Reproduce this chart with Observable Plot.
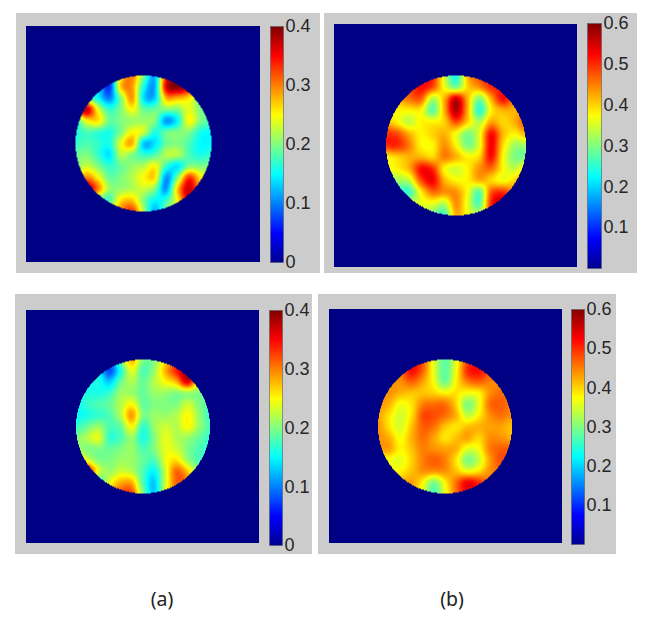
<!DOCTYPE html>
<html>
<head>
<meta charset="utf-8">
<script src="https://cdn.jsdelivr.net/npm/d3@7"></script>
<script src="https://cdn.jsdelivr.net/npm/@observablehq/plot@0.6"></script>
<style>
  html, body { margin: 0; padding: 0; background: #fff; }
  #page { position: relative; width: 656px; height: 624px; overflow: hidden; }
  .panel { position: absolute; background: #cccccc; }
  .caption { position: absolute; font: 19.5px "Noto Sans", sans-serif; color: #222; transform: translateX(-50%); }
</style>
</head>
<body>
<div id="page"></div>
<script>
// Field values, 13 x 13 samples across each disc (row 0 = top).
const fieldTopA = [
  [.15,.15,.10,.08,.25,.30,.20,.12,.33,.38,.38,.30,.20],
  [.15,.15,.14,.07,.27,.29,.16,.12,.36,.40,.36,.25,.20],
  [.18,.20,.15,.10,.20,.29,.14,.13,.28,.28,.26,.20,.19],
  [.30,.37,.24,.17,.20,.25,.19,.19,.20,.20,.24,.20,.18],
  [.17,.25,.26,.19,.20,.21,.21,.20,.11,.15,.25,.20,.18],
  [.16,.18,.17,.16,.20,.25,.23,.16,.19,.20,.20,.16,.15],
  [.17,.18,.17,.16,.24,.28,.13,.14,.19,.20,.18,.15,.15],
  [.19,.20,.17,.14,.22,.20,.17,.18,.22,.22,.18,.16,.17],
  [.20,.23,.20,.17,.19,.21,.22,.25,.17,.14,.20,.20,.20],
  [.25,.30,.25,.19,.20,.22,.25,.26,.11,.20,.33,.26,.22],
  [.35,.38,.30,.21,.21,.22,.23,.20,.11,.27,.37,.28,.22],
  [.35,.35,.20,.18,.26,.27,.20,.15,.17,.25,.35,.25,.20],
  [.30,.20,.20,.25,.30,.33,.22,.12,.20,.24,.30,.20,.20]
];
const fieldTopB = [
  [.40,.45,.50,.50,.50,.35,.24,.42,.48,.50,.50,.45,.40],
  [.42,.45,.48,.52,.48,.37,.30,.40,.44,.50,.50,.45,.42],
  [.42,.42,.46,.47,.33,.42,.55,.42,.30,.42,.52,.45,.42],
  [.38,.38,.38,.38,.28,.42,.57,.42,.25,.38,.42,.42,.42],
  [.42,.38,.34,.38,.38,.40,.48,.40,.33,.43,.40,.42,.48],
  [.50,.48,.42,.38,.40,.42,.37,.30,.36,.52,.42,.38,.42],
  [.50,.50,.45,.38,.38,.44,.38,.30,.36,.53,.40,.32,.32],
  [.38,.40,.42,.42,.40,.45,.42,.38,.40,.52,.38,.30,.30],
  [.37,.38,.42,.52,.50,.38,.35,.38,.44,.46,.38,.34,.40],
  [.30,.32,.34,.48,.53,.42,.38,.38,.42,.40,.37,.40,.45],
  [.28,.26,.26,.38,.46,.44,.44,.37,.28,.47,.50,.44,.42],
  [.30,.30,.34,.36,.36,.33,.44,.36,.28,.50,.56,.44,.42],
  [.30,.33,.36,.36,.30,.26,.42,.37,.35,.47,.50,.44,.40]
];
const fieldBottomA = [
  [.15,.15,.13,.10,.20,.28,.20,.20,.26,.30,.32,.25,.20],
  [.15,.15,.15,.08,.16,.24,.18,.21,.28,.34,.38,.28,.20],
  [.15,.15,.16,.13,.19,.22,.19,.22,.25,.28,.36,.24,.20],
  [.15,.16,.16,.17,.21,.21,.19,.21,.21,.20,.21,.20,.19],
  [.15,.17,.18,.19,.22,.25,.19,.20,.20,.20,.23,.20,.18],
  [.15,.16,.17,.18,.22,.29,.20,.21,.21,.22,.25,.21,.17],
  [.17,.19,.21,.18,.19,.25,.17,.21,.23,.22,.25,.21,.18],
  [.20,.22,.24,.17,.18,.21,.16,.20,.24,.22,.21,.19,.17],
  [.22,.20,.20,.19,.20,.21,.18,.20,.24,.23,.20,.18,.17],
  [.28,.24,.20,.20,.21,.21,.19,.18,.24,.26,.21,.18,.18],
  [.35,.36,.24,.21,.23,.22,.18,.15,.23,.31,.27,.20,.19],
  [.35,.30,.18,.24,.28,.28,.18,.13,.23,.31,.30,.22,.20],
  [.30,.20,.22,.28,.32,.32,.20,.13,.24,.30,.28,.22,.20]
];
const fieldBottomB = [
  [.45,.45,.47,.50,.48,.36,.28,.36,.48,.50,.48,.45,.42],
  [.44,.45,.46,.52,.47,.36,.28,.37,.50,.52,.48,.45,.42],
  [.44,.44,.44,.47,.43,.37,.29,.38,.45,.47,.45,.44,.43],
  [.44,.44,.42,.41,.41,.40,.38,.39,.37,.38,.44,.46,.45],
  [.44,.42,.37,.39,.45,.46,.46,.40,.30,.36,.46,.47,.45],
  [.43,.39,.35,.39,.48,.48,.46,.42,.34,.38,.44,.46,.44],
  [.44,.39,.35,.41,.47,.46,.41,.39,.41,.42,.43,.43,.41],
  [.44,.42,.37,.42,.46,.43,.39,.41,.43,.40,.44,.44,.42],
  [.43,.43,.38,.41,.45,.44,.43,.42,.36,.37,.45,.47,.47],
  [.37,.37,.36,.40,.45,.47,.45,.39,.30,.34,.43,.48,.47],
  [.38,.38,.38,.41,.44,.44,.44,.41,.37,.39,.44,.46,.45],
  [.40,.41,.42,.43,.38,.30,.38,.46,.53,.50,.45,.44,.42],
  [.42,.43,.44,.43,.36,.27,.36,.46,.52,.50,.44,.43,.42]
];
const ticksA = [0, 0.1, 0.2, 0.3, 0.4];
const ticksB = [0.1, 0.2, 0.3, 0.4, 0.5, 0.6];
const jet = ["#00008f","#0000ff","#0080ff","#00ffff","#80ff80","#ffff00","#ff8000","#ff0000","#800000"];
const captions = [["(a)", 162, 585], ["(b)", 452, 585]];

// Page layout, in pixels
const layout = [
  {field: fieldTopA, max: 0.4, ticks: ticksA, panel: [16, 13, 320, 273], image: [26, 26, 260, 262], disc: [143, 143, 68], bar: [270, 26, 283, 262]},
  {field: fieldTopB, max: 0.6, ticks: ticksB, panel: [324, 13, 637, 273], image: [334, 24, 577, 267], disc: [455.5, 145, 70], bar: [587, 23, 601, 268]},
  {field: fieldBottomA, max: 0.4, ticks: ticksA, panel: [15, 294, 312, 554], image: [26, 310, 259, 543], disc: [142.5, 426, 67], bar: [269, 310, 282, 545]},
  {field: fieldBottomB, max: 0.6, ticks: ticksB, panel: [318, 294, 616, 554], image: [329, 309, 562, 543], disc: [444.5, 426, 67], bar: [571, 309, 584, 544]}
];

const page = document.getElementById("page");

// Catmull-Rom resampling of a value grid, used by the raster mark
function cubic(a, b, c, d, t) {
  return b + 0.5 * t * (c - a + t * (2 * a - 5 * b + 4 * c - d + t * (3 * (b - c) + d - a)));
}
function sample(grid, u, v) {
  const n = grid.length - 1;
  const at = (i, j) => grid[Math.max(0, Math.min(n, j))][Math.max(0, Math.min(n, i))];
  const i = Math.floor(u), j = Math.floor(v), s = u - i, t = v - j;
  const row = (k) => cubic(at(i - 1, k), at(i, k), at(i + 1, k), at(i + 2, k), s);
  return cubic(row(j - 1), row(j), row(j + 1), row(j + 2), t);
}

for (const {field, max, ticks, panel, image, disc, bar} of layout) {
  const box = document.createElement("div");
  box.className = "panel";
  box.style.cssText = `left:${panel[0]}px;top:${panel[1]}px;width:${panel[2] - panel[0]}px;height:${panel[3] - panel[1]}px`;
  page.appendChild(box);

  const color = {type: "linear", domain: d3.range(jet.length).map((i) => (i / (jet.length - 1)) * max), range: jet, clamp: true};
  const [x0, y0, x1, y1] = image;
  const [cx, cy, r] = disc;
  const n = field.length - 1;
  const toU = (px) => ((px - cx) / r) * (n / 2) + n / 2;
  const toV = (py) => ((py - cy) / r) * (n / 2) + n / 2;

  const heat = Plot.plot({
    width: x1 - x0,
    height: y1 - y0,
    margin: 0,
    x: {domain: [toU(x0), toU(x1)], axis: null},
    y: {domain: [toV(y1), toV(y0)], axis: null},
    color,
    style: {position: "absolute", left: x0 + "px", top: y0 + "px", background: "#000085", maxWidth: "none", filter: "blur(0.5px)"},
    marks: [
      Plot.raster({
        x1: 0, x2: n, y1: 0, y2: n,
        pixelSize: 1,
        fill: (u, v) => ((u - n / 2) ** 2 + (v - n / 2) ** 2 <= (n / 2) ** 2 ? sample(field, u, v) : NaN)
      })
    ]
  });
  page.appendChild(heat);

  const pad = 12, right = 40;
  const [bx0, by0, bx1, by1] = bar;
  const legend = Plot.plot({
    width: bx1 - bx0 + right,
    height: by1 - by0 + 2 * pad,
    marginLeft: 0, marginRight: right, marginTop: pad, marginBottom: pad,
    x: {domain: [0, 1], axis: null},
    y: {domain: [0, max], axis: null},
    color,
    style: {position: "absolute", left: bx0 + "px", top: by0 - pad + "px", background: "transparent", maxWidth: "none", overflow: "visible", fontFamily: "'Liberation Sans', Arial, sans-serif"},
    marks: [
      Plot.raster({x1: 0, x2: 1, y1: 0, y2: max, pixelSize: 1, fill: (x, y) => y}),
      Plot.frame({stroke: "#55606a", strokeWidth: 0.6}),
      Plot.axisY(ticks, {anchor: "right", tickSize: 0, tickPadding: 2, fontSize: 18, fill: "#262626", tickFormat: (d) => (d === 0 ? "0" : d3.format(".1f")(d)), label: null})
    ]
  });
  page.appendChild(legend);
}

for (const [text, x, y] of captions) {
  const el = document.createElement("div");
  el.className = "caption";
  el.textContent = text;
  el.style.left = x + "px";
  el.style.top = y + "px";
  page.appendChild(el);
}
</script>
</body>
</html>
